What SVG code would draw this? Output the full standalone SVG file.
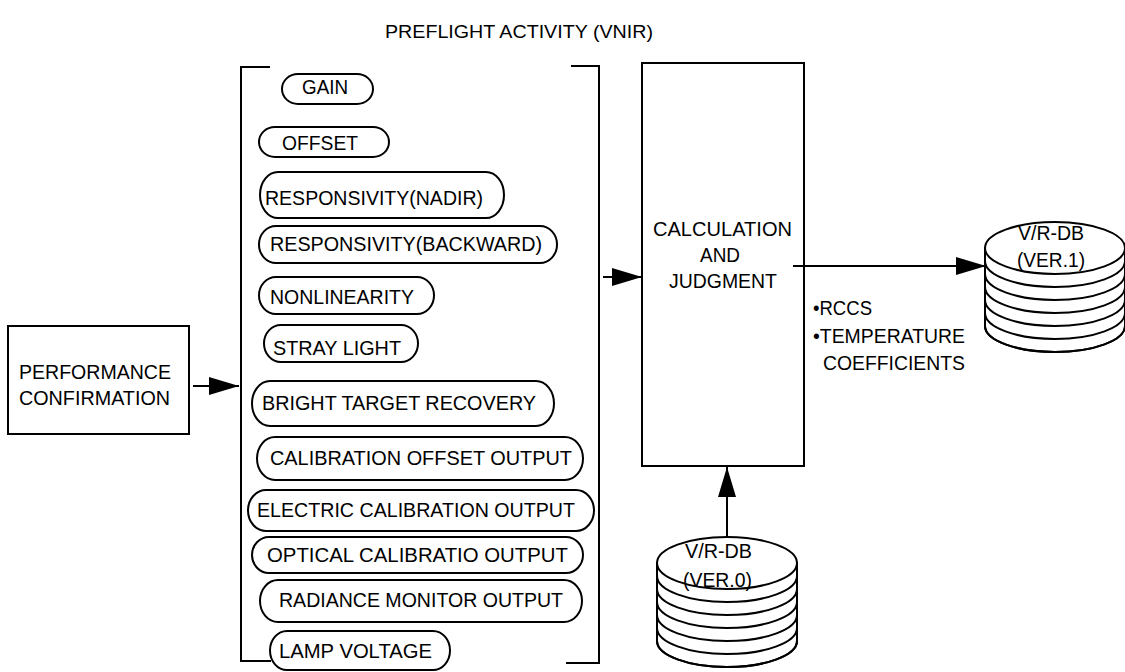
<svg xmlns="http://www.w3.org/2000/svg" width="1125" height="672" viewBox="0 0 1125 672">
<style>
text{font-family:"Liberation Sans",Arial,sans-serif;font-size:20.5px;fill:#000}
.ttl{font-size:19px}
.ln{fill:none;stroke:#000;stroke-width:2}
.box{fill:#fff;stroke:#000;stroke-width:2}
.pill{fill:#fff;stroke:#000;stroke-width:2}
</style>
<defs>
<marker id="ah" markerUnits="userSpaceOnUse" markerWidth="32" markerHeight="18" refX="30" refY="9" orient="auto">
<path d="M0,0 L30,9 L0,18 Z" fill="#000"/>
</marker>
<g id="disk">
<path class="box" d="M-70,78 L-70,0 L70,0 L70,78 A70,26 0 0 1 -70,78 Z"/>
<path class="ln" d="M-70,13 A70,26 0 0 0 70,13 M-70,26 A70,26 0 0 0 70,26 M-70,39 A70,26 0 0 0 70,39 M-70,52 A70,26 0 0 0 70,52 M-70,65 A70,26 0 0 0 70,65 M-70,78 A70,26 0 0 0 70,78"/>
<ellipse class="box" cx="0" cy="0" rx="70" ry="26"/>
</g>
</defs>

<text class="ttl" x="385" y="38" textLength="268" lengthAdjust="spacingAndGlyphs">PREFLIGHT ACTIVITY (VNIR)</text>

<g id="connectors">
<line class="ln" x1="193" y1="386" x2="239" y2="386" marker-end="url(#ah)"/>
<line class="ln" x1="603" y1="277" x2="642" y2="277" marker-end="url(#ah)"/>
<line class="ln" x1="793" y1="266" x2="986" y2="266" marker-end="url(#ah)"/>
<line class="ln" x1="727" y1="537" x2="727" y2="467" marker-end="url(#ah)"/>
</g>

<g id="bracket-left">
<path class="ln" d="M240,67 L270,67 M241,67 L241,661 L271,661"/>
</g>
<g id="bracket-right">
<path class="ln" d="M571,66 L600,66 M599,66 L599,663 L566,663"/>
</g>

<g id="performance">
<rect class="box" x="8" y="326" width="181" height="108"/>
<text x="19" y="379" textLength="152" lengthAdjust="spacingAndGlyphs">PERFORMANCE</text>
<text x="19" y="405" textLength="151" lengthAdjust="spacingAndGlyphs">CONFIRMATION</text>
</g>

<g id="gain"><rect class="pill" x="282" y="74" width="91" height="30" rx="16" ry="15"/><text x="302" y="94" textLength="46" lengthAdjust="spacingAndGlyphs">GAIN</text></g>
<g id="offset"><rect class="pill" x="259" y="127" width="130" height="30" rx="16" ry="15"/><text x="282" y="150" textLength="76" lengthAdjust="spacingAndGlyphs">OFFSET</text></g>
<g id="resp-nadir"><rect class="pill" x="260" y="172" width="244" height="46" rx="18" ry="23"/><text x="265" y="205" textLength="218" lengthAdjust="spacingAndGlyphs">RESPONSIVITY(NADIR)</text></g>
<g id="resp-backward"><rect class="pill" x="259" y="226" width="298" height="37" rx="17" ry="18.5"/><text x="270" y="251" textLength="272" lengthAdjust="spacingAndGlyphs">RESPONSIVITY(BACKWARD)</text></g>
<g id="nonlinearity"><rect class="pill" x="259" y="277" width="175" height="37" rx="17" ry="18.5"/><text x="270" y="304" textLength="144" lengthAdjust="spacingAndGlyphs">NONLINEARITY</text></g>
<g id="stray-light"><rect class="pill" x="264" y="325" width="154" height="37" rx="17" ry="18.5"/><text x="273" y="355" textLength="128" lengthAdjust="spacingAndGlyphs">STRAY LIGHT</text></g>
<g id="bright-target"><rect class="pill" x="252" y="381" width="302" height="45" rx="18" ry="22.5"/><text x="262" y="410" textLength="274" lengthAdjust="spacingAndGlyphs">BRIGHT TARGET RECOVERY</text></g>
<g id="cal-offset"><rect class="pill" x="257" y="437" width="326" height="43" rx="18" ry="21.5"/><text x="270" y="465" textLength="302" lengthAdjust="spacingAndGlyphs">CALIBRATION OFFSET OUTPUT</text></g>
<g id="electric-cal"><rect class="pill" x="248" y="490" width="346" height="41" rx="18" ry="20.5"/><text x="257" y="517" textLength="318" lengthAdjust="spacingAndGlyphs">ELECTRIC CALIBRATION OUTPUT</text></g>
<g id="optical-cal"><rect class="pill" x="252" y="537" width="331" height="36" rx="17" ry="18"/><text x="267" y="562" textLength="301" lengthAdjust="spacingAndGlyphs">OPTICAL CALIBRATIO OUTPUT</text></g>
<g id="radiance"><rect class="pill" x="260" y="580" width="322" height="42" rx="18" ry="21"/><text x="279" y="607" textLength="284" lengthAdjust="spacingAndGlyphs">RADIANCE MONITOR OUTPUT</text></g>
<g id="lamp"><rect class="pill" x="270" y="631" width="180" height="39" rx="17" ry="19.5"/><text x="279" y="658" textLength="153" lengthAdjust="spacingAndGlyphs">LAMP VOLTAGE</text></g>

<g id="calc">
<rect class="box" x="642" y="63" width="162" height="403"/>
<text x="653" y="236" textLength="139" lengthAdjust="spacingAndGlyphs">CALCULATION</text>
<text x="700" y="262" textLength="40" lengthAdjust="spacingAndGlyphs">AND</text>
<text x="669" y="288" textLength="108" lengthAdjust="spacingAndGlyphs">JUDGMENT</text>
</g>
<line class="ln" x1="793" y1="266" x2="804" y2="266"/>

<g id="output-label">
<text x="813" y="315" textLength="59" lengthAdjust="spacingAndGlyphs">•RCCS</text>
<text x="813" y="343" textLength="152" lengthAdjust="spacingAndGlyphs">•TEMPERATURE</text>
<text x="823" y="370" textLength="142" lengthAdjust="spacingAndGlyphs">COEFFICIENTS</text>
</g>

<g id="db-ver1">
<use href="#disk" x="1055" y="248"/>
<text x="1018" y="240" textLength="66" lengthAdjust="spacingAndGlyphs">V/R-DB</text>
<text x="1017" y="267" textLength="68" lengthAdjust="spacingAndGlyphs">(VER.1)</text>
</g>

<g id="db-ver0">
<use href="#disk" x="727" y="563"/>
<text x="685" y="558" textLength="67" lengthAdjust="spacingAndGlyphs">V/R-DB</text>
<text x="683" y="587" textLength="69" lengthAdjust="spacingAndGlyphs">(VER.0)</text>
</g>
</svg>
